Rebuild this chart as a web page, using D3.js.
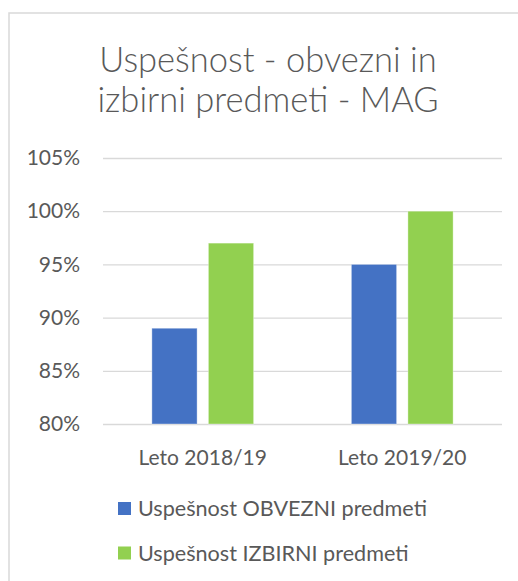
<!DOCTYPE html>
<html lang="sl">
<head>
<meta charset="UTF-8">
<title>Uspešnost - obvezni in izbirni predmeti - MAG</title>
<script src="https://cdnjs.cloudflare.com/ajax/libs/d3/7.8.5/d3.min.js"></script>
<style>
    * { margin: 0; padding: 0; box-sizing: border-box; }
    body { background: #fff; width: 518px; height: 581px; overflow: hidden; }
    svg text { font-family: 'Lato', 'Noto Sans', sans-serif; fill: #595959; }
</style>
</head>
<body>
<div id="chart"></div>
<script>
    // Data
    const years = ['Leto 2018/19', 'Leto 2019/20'];
    const seriesNames = ['Uspešnost OBVEZNI predmeti', 'Uspešnost IZBIRNI predmeti'];
    const obvezni = [0.89, 0.95];
    const izbirni = [0.97, 1.00];
    const yTicks = [0.80, 0.85, 0.90, 0.95, 1.00, 1.05];
    const titleLines = ['Uspešnost - obvezni in', 'izbirni predmeti - MAG'];

    const colors = ['#4472C4', '#92D050'];
    const seriesValues = [obvezni, izbirni];

    const W = 518, H = 581;
    const plot = {left: 103, right: 502, top: 158, bottom: 424};

    const svg = d3.select('#chart').append('svg')
        .attr('width', W)
        .attr('height', H);

    // chart frame (runs off the right and bottom edges)
    svg.append('rect')
        .attr('x', 9).attr('y', 13)
        .attr('width', 540).attr('height', 600)
        .attr('fill', '#fff')
        .attr('stroke', '#d9d9d9')
        .attr('stroke-width', 1.5);

    // title
    svg.append('g').selectAll('text')
        .data(titleLines)
        .enter()
        .append('text')
        .attr('x', 268)
        .attr('y', (d, i) => 72 + i * 40)
        .attr('text-anchor', 'middle')
        .style('font-size', '34.5px')
        .style('font-weight', 300)
        .text(d => d);

    const x0 = d3.scaleBand()
        .domain(years)
        .range([plot.left, plot.right])
        .paddingInner(0.49)
        .paddingOuter(0.245);

    const x1 = d3.scaleBand()
        .domain(d3.range(seriesNames.length))
        .range([0, x0.bandwidth()])
        .paddingInner(0.2);

    const y = d3.scaleLinear()
        .domain([0.80, 1.05])
        .range([plot.bottom, plot.top]);

    // gridlines
    svg.append('g')
        .attr('transform', `translate(${plot.left},0)`)
        .call(d3.axisLeft(y)
            .tickValues(yTicks)
            .tickSize(-(plot.right - plot.left))
            .tickFormat(''))
        .call(g => g.select('.domain').remove())
        .call(g => g.selectAll('.tick line')
            .attr('stroke', '#d9d9d9')
            .attr('stroke-width', 1.3));

    // y labels
    svg.append('g')
        .attr('transform', `translate(80,0)`)
        .call(d3.axisLeft(y)
            .tickValues(yTicks)
            .tickSize(0)
            .tickPadding(0)
            .tickFormat(d3.format('.0%')))
        .call(g => g.select('.domain').remove())
        .call(g => g.selectAll('text')
            .style('font-size', '21px')
            .attr('fill', '#595959'));

    // bars
    const groups = svg.append('g').selectAll('g')
        .data(years)
        .enter()
        .append('g')
        .attr('transform', d => `translate(${x0(d)},0)`);

    groups.selectAll('rect')
        .data((d, i) => seriesValues.map((s, k) => ({k: k, v: s[i]})))
        .enter()
        .append('rect')
        .attr('x', d => x1(d.k))
        .attr('width', x1.bandwidth())
        .attr('y', d => y(d.v))
        .attr('height', d => y(0.80) - y(d.v))
        .attr('fill', d => colors[d.k])
        .attr('stroke', '#fff')
        .attr('stroke-opacity', 0.35)
        .attr('stroke-width', 1);

    // x labels
    svg.append('g')
        .attr('transform', `translate(0,${plot.bottom})`)
        .call(d3.axisBottom(x0).tickSize(0).tickPadding(0))
        .call(g => g.select('.domain').remove())
        .call(g => g.selectAll('text')
            .attr('dy', null)
            .attr('y', 41)
            .style('font-size', '21px')
            .attr('fill', '#595959'));

    // legend
    const legend = svg.append('g').selectAll('g')
        .data(seriesNames)
        .enter()
        .append('g')
        .attr('transform', (d, i) => `translate(118,${502 + i * 44.5})`);

    legend.append('rect')
        .attr('width', 13)
        .attr('height', 13)
        .attr('fill', (d, i) => colors[i]);

    legend.append('text')
        .attr('x', 20)
        .attr('y', 14)
        .style('font-size', '21.6px')
        .text(d => d);
</script>
</body>
</html>
